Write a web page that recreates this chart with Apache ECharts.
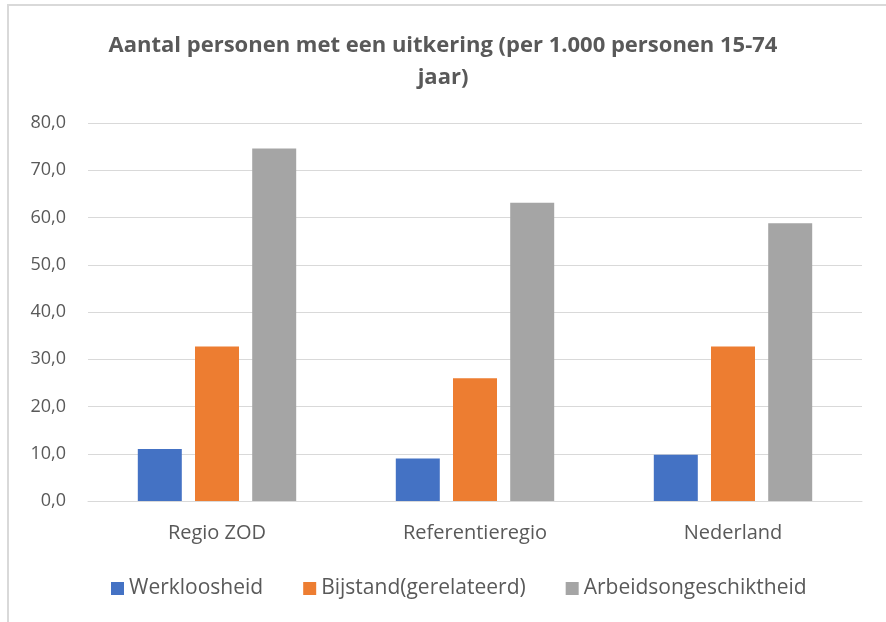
<!DOCTYPE html>
<html>
<head>
    <meta charset="utf-8">
    <script src="https://cdn.jsdelivr.net/npm/echarts@6/dist/echarts.min.js"></script>
    <style>
        body { margin: 0; background: #fff; }
        #frame { position: absolute; left: 7px; top: 4px; width: 900px; height: 640px; border-left: 2px solid #d9d9d9; border-top: 2px solid #d9d9d9; box-sizing: border-box; }
        #main { position: absolute; left: 0; top: 0; width: 886px; height: 622px; }
    </style>
</head>
<body>
    <div id="frame"></div>
    <div id="main"></div>
    <script type="text/javascript">
        var regios = ['Regio ZOD', 'Referentieregio', 'Nederland'];
        var werkloosheid = [11.0, 9.0, 9.8];
        var bijstand = [32.7, 26.0, 32.7];
        var arbeidsongeschiktheid = [74.6, 63.1, 58.8];

        var chart = echarts.init(document.getElementById('main'));
        var font = '"Open Sans", sans-serif';
        var grijs = '#595959';

        function serie(naam, data, kleur) {
            return {
                name: naam,
                type: 'bar',
                data: data,
                barWidth: 44,
                barGap: '30%',
                itemStyle: { color: kleur },
                emphasis: { disabled: true }
            };
        }

        var option = {
            animation: false,
            title: {
                text: 'Aantal personen met een uitkering (per 1.000 personen 15-74\njaar)',
                left: 'center',
                top: 25,
                textStyle: { fontFamily: font, fontSize: 22, fontWeight: 'bold', color: grijs, lineHeight: 32 }
            },
            legend: {
                top: 573,
                left: 106,
                itemWidth: 13,
                itemHeight: 13,
                itemGap: 40,
                icon: 'rect',
                textStyle: { fontFamily: font, fontSize: 21, color: grijs, padding: [0, 0, 0, 0] },
                data: ['Werkloosheid', 'Bijstand(gerelateerd)', 'Arbeidsongeschiktheid']
            },
            grid: { left: 88, right: 24, top: 123, bottom: 121 },
            xAxis: {
                type: 'category',
                data: regios,
                axisTick: { show: false },
                axisLine: { lineStyle: { color: '#d9d9d9', width: 1 } },
                axisLabel: { fontFamily: font, fontSize: 20, color: grijs, margin: 22 }
            },
            yAxis: {
                type: 'value',
                min: 0,
                max: 80,
                interval: 10,
                axisLabel: {
                    fontFamily: font, fontSize: 18, color: grijs, margin: 22,
                    formatter: function (v) { return v.toFixed(1).replace('.', ','); }
                },
                splitLine: { lineStyle: { color: '#d9d9d9', width: 1 } }
            },
            series: [
                serie('Werkloosheid', werkloosheid, '#4472c4'),
                serie('Bijstand(gerelateerd)', bijstand, '#ed7d31'),
                serie('Arbeidsongeschiktheid', arbeidsongeschiktheid, '#a5a5a5')
            ]
        };
        chart.setOption(option);
    </script>
</body>
</html>
